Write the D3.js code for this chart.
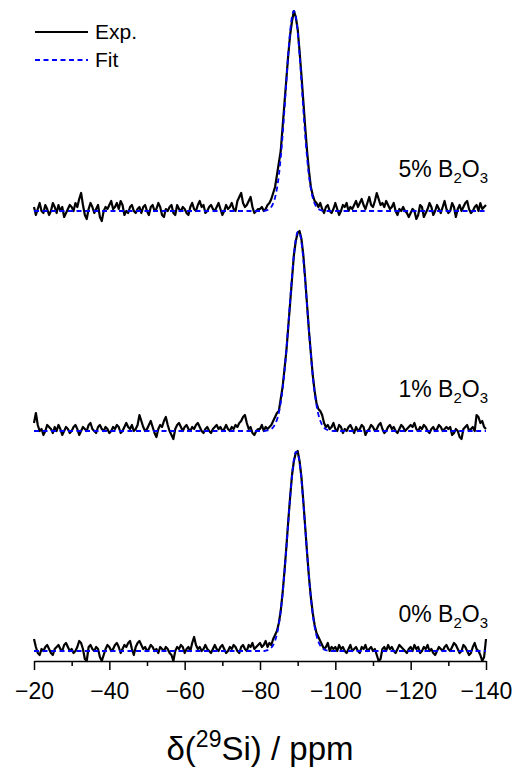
<!DOCTYPE html>
<html lang="en">
<head>
<meta charset="UTF-8">
<title>29Si NMR</title>
<script src="https://d3js.org/d3.v7.min.js"></script>
<style>
  body { margin: 0; background: #fff; }
  svg { display: block; font-family: "Liberation Sans", Arial, sans-serif; }
</style>
</head>
<body>
<div id="chart"></div>
<script>
// experimental spectra, one value every 0.5 ppm from -20 to -140 (20 values per row = 10 ppm)
const exp5 = [
  2, -2, 1, 4, 0, -1, 3, 1, -2, 0, 4, 2, -1, 3, 0, 2, -3, -1, 1, 3,
  2, 0, 4, 2, 6, 9, 3, -2, -4, 1, 4, 2, -1, 1, 3, -3, -5, 0, 2, 1,
  3, 5, 1, 2, 4, 1, 5, 3, -2, 0, -1, 2, 3, 0, -1, 1, 2, -1, 2, 3,
  0, -2, 2, 3, 0, 1, 4, 2, -2, -3, 1, 0, 2, 3, -1, -2, 3, 1, 0, 2,
  1, -1, -2, 2, 4, 1, 0, 3, 5, 2, 3, -1, 0, 2, 3, 1, 0, 2, 4, 1,
  -2, 0, 3, 1, 2, 4, 1, 0, 5, 7, 9, 4, 2, 3, 5, 7, 2, -1, 0, 1,
  1, 2, 0, 1, 3, 4, 6, 9, 12, 18, 24, 30, 42, 54, 66, 78, 88, 95, 100, 97,
  91, 80, 68, 55, 42, 30, 20, 12, 8, 5, 4, 2, 4, 1, -1, 2, 3, 0, -1, 1,
  4, 1, -2, 0, 3, 2, 4, 0, 2, 1, 3, 5, 2, 4, 6, 3, 1, 4, 7, 3,
  2, 5, 9, 6, 3, 4, 2, 5, 3, 1, 2, 4, 0, -2, 1, 0, 2, 0, -1, -3,
  -1, 1, 0, -4, -2, 3, 2, -3, -1, 1, 4, 2, -2, 0, 3, 1, -1, 2, 5, 1,
  -1, 0, 4, 2, -3, 1, 3, 0, 2, 4, 5, 1, -1, 0, 2, 3, 0, 4, 1, 2,
  3
];
const exp1 = [
  4, 9, 3, 0, 1, -2, 0, 3, 2, 1, -1, 2, 0, 3, 1, -2, 0, 2, 1, -1,
  0, 2, 3, 1, -2, 0, 2, 1, 0, 3, 4, 1, 0, -1, 2, 3, 1, 0, 2, 1,
  -1, 0, 2, 1, 3, 2, -1, 0, 2, 4, 2, 1, 3, 0, 1, 3, 8, 5, 2, 0,
  1, 3, 5, 2, -1, -3, 1, 3, 2, 5, 7, 3, 0, -2, -4, 1, 3, 4, 2, 0,
  2, 3, 1, 0, 2, 1, 3, 4, 2, 0, -1, 1, 2, 0, -1, 1, 2, 3, 1, 2,
  0, 1, 3, 1, 0, 2, 1, 3, 2, 4, 5, 7, 8, 4, 1, 2, -1, -2, 0, 1,
  1, 3, 0, 2, 1, 2, 3, 5, 7, 9, 10, 16, 22, 31, 40, 52, 64, 76, 88, 95,
  99, 100, 96, 88, 76, 63, 50, 39, 28, 20, 14, 11, 10, 8, 4, 2, 3, 1, 2, 4,
  1, 0, 3, 2, -1, 1, 0, 2, 3, 1, -1, 2, 0, 1, 3, 2, -2, 0, 1, 3,
  2, 0, 1, 3, 4, 1, -1, 0, 2, 3, 1, 2, 0, -1, 1, 3, 2, 0, 1, 2,
  3, 2, 4, 1, 0, 2, 1, 3, 2, 0, -1, 1, 2, 0, 1, 3, 2, 0, 1, 2,
  1, 2, -2, -1, 1, 0, -3, -4, 1, 2, 3, 0, 1, 2, 0, 8, 7, 4, 5, 2,
  1
];
const exp0 = [
  6, 2, -1, -2, 1, 0, 2, 3, 1, -1, -2, 1, 2, 3, 1, 0, 3, 4, 2, 0,
  1, -1, 0, 2, 5, 4, 1, -4, -5, 2, 3, 1, 0, 2, 1, -3, -5, -2, 1, 3,
  2, 0, 1, 3, 4, 2, -1, 1, 3, 2, 4, 5, 1, -2, 2, 4, 5, 3, 1, 2,
  0, 1, 3, 2, 0, 1, -1, 2, 1, 0, 2, 1, -1, -2, -5, 0, 2, 1, 3, 2,
  -1, 1, 2, 0, 4, 7, 3, 1, 2, 0, 1, 3, 1, 0, -1, 1, 3, 1, 0, 2,
  3, 1, -1, 0, 2, 1, 3, 2, 0, -1, 2, 3, 1, 0, 3, 2, 4, 1, 2, 3,
  4, 2, 3, 5, 2, 4, 3, 6, 8, 10, 14, 20, 29, 40, 52, 65, 77, 88, 95, 99,
  100, 95, 87, 75, 62, 49, 37, 27, 19, 13, 9, 7, 5, 3, 1, 2, 4, 0, 2, 1,
  2, 0, 3, 1, 2, 0, -1, 1, 3, 0, 1, 2, 0, -1, 2, 1, 3, 0, 1, 2,
  0, 1, -2, -5, -4, 1, 2, 0, 3, 1, 2, 0, -1, 1, 3, 2, 1, 0, -1, 1,
  2, 0, 3, 1, 2, -1, 0, 2, 1, 3, 0, 1, -1, -2, 0, 2, 1, 0, 2, 3,
  1, 0, 2, 4, 3, 1, -1, 0, 3, 2, 0, -2, -1, 2, 4, 1, 0, -2, -5, -3,
  6
];

// fitted curves, one value every 0.5 ppm from -78 to -100 (zero outside)
const fit5 = [0, 0, 0, 0, 0, 0, 0, 0.2, 0.5, 1.0, 2.0, 3.8, 6.7, 11.2, 17.7, 26.6, 37.8, 50.8, 64.9, 78.4, 89.7, 97.3, 100,
  97.3, 89.7, 78.4, 64.9, 50.8, 37.8, 26.6, 17.7, 11.2, 6.7, 3.8, 2.0, 1.0, 0.5, 0.2, 0, 0, 0, 0, 0, 0, 0];
const fit1 = [0, 0, 0, 0, 0, 0, 0, 0.1, 0.26, 0.5, 1.0, 1.9, 3.3, 5.6, 9.1, 14.2, 21.0, 29.8, 40.4, 52.5, 65.2, 77.4, 88.0,
  95.7, 99.6, 99.2, 94.5, 86.1, 75.0, 62.6, 50.0, 38.1, 27.9, 19.5, 13.0, 8.3, 5.1, 3.0, 1.7, 0.9, 0.5, 0.2, 0.1, 0, 0];
const fit0 = [0, 0, 0, 0, 0, 0, 0, 0.2, 0.4, 0.9, 1.7, 3.0, 5.1, 8.5, 13.3, 20.0, 28.6, 39.2, 51.4, 64.3, 76.8, 87.7, 95.6,
  99.6, 99.2, 94.3, 85.7, 74.4, 61.7, 48.9, 37.0, 26.8, 18.5, 12.2, 7.7, 4.6, 2.7, 1.5, 0.8, 0.4, 0.2, 0.1, 0, 0, 0];

const labels = ["5%", "1%", "0%"];
const offsets = [220, 110, 0];
const majorTicks = [-20, -40, -60, -80, -100, -120, -140];
const minorTicks = [-30, -50, -70, -90, -110, -130];

const width = 518, height = 771;
const svg = d3.select("#chart").append("svg")
  .attr("width", width)
  .attr("height", height);

const x = d3.scaleLinear().domain([-20, -140]).range([34, 486]);
const y = d3.scaleLinear().domain([-5, 325]).range([661, 1]);

const series = [
  { exp: exp5, fit: fit5, label: labels[0], off: offsets[0], ly: 177 },
  { exp: exp1, fit: fit1, label: labels[1], off: offsets[1], ly: 397 },
  { exp: exp0, fit: fit0, label: labels[2], off: offsets[2], ly: 622 }
];

const lineExp = d3.line().x(d => x(d[0])).y(d => y(d[1]));
const lineFit = d3.line().x(d => x(d[0])).y(d => y(d[1])).curve(d3.curveMonotoneX);

series.forEach(s => {
  const ep = s.exp.map((v, i) => [-20 - i * 0.5, v + s.off]);
  const fp = [[-20, s.off]]
    .concat(s.fit.map((v, i) => [-78 - i * 0.5, v + s.off]))
    .concat([[-140, s.off]]);

  svg.append("path")
    .attr("d", lineExp(ep))
    .attr("fill", "none")
    .attr("stroke", "#000")
    .attr("stroke-width", 2.2)
    .attr("stroke-linejoin", "round");

  svg.append("path")
    .attr("d", lineFit(fp))
    .attr("fill", "none")
    .attr("stroke", "#0000ff")
    .attr("stroke-width", 1.8)
    .attr("stroke-dasharray", "5,3.5");

  const t = svg.append("text")
    .attr("x", 488)
    .attr("y", s.ly)
    .attr("text-anchor", "end")
    .attr("font-size", 23)
    .attr("fill", "#000");
  t.append("tspan").text(s.label + " B");
  t.append("tspan").attr("font-size", 15).attr("dy", 6).text("2");
  t.append("tspan").attr("dy", -6).text("O");
  t.append("tspan").attr("font-size", 15).attr("dy", 6).text("3");
});

// axis
const axis = svg.append("g")
  .attr("transform", "translate(0,661)")
  .call(d3.axisBottom(x).tickValues(majorTicks).tickSize(9).tickSizeOuter(0).tickPadding(13));
axis.select(".domain").attr("stroke-width", 1.5);
axis.selectAll(".tick line").attr("stroke-width", 1.5);
axis.selectAll(".tick text")
  .attr("font-size", 23)
  .attr("font-family", "Liberation Sans, Arial, sans-serif");

const minor = svg.append("g")
  .attr("transform", "translate(0,661)")
  .call(d3.axisBottom(x).tickValues(minorTicks).tickSize(5).tickSizeOuter(0).tickFormat(""));
minor.select(".domain").remove();
minor.selectAll(".tick line").attr("stroke-width", 1.5);

// axis title
const title = svg.append("text")
  .attr("x", 260)
  .attr("y", 760)
  .attr("text-anchor", "middle")
  .attr("font-size", 33)
  .attr("fill", "#000");
title.append("tspan").text("δ(");
title.append("tspan").attr("font-size", 23).attr("dy", -13).text("29");
title.append("tspan").attr("dy", 13).text("Si) / ppm");

// legend
const legend = [
  { name: "Exp.", color: "#000", dash: null, y: 32 },
  { name: "Fit", color: "#0000ff", dash: "5,3.5", y: 60 }
];
legend.forEach(d => {
  svg.append("line")
    .attr("x1", 35).attr("x2", 88)
    .attr("y1", d.y).attr("y2", d.y)
    .attr("stroke", d.color)
    .attr("stroke-width", 2)
    .attr("stroke-dasharray", d.dash);
  svg.append("text")
    .attr("x", 95)
    .attr("y", d.y + 7)
    .attr("font-size", 21)
    .attr("fill", "#000")
    .text(d.name);
});
</script>
</body>
</html>
